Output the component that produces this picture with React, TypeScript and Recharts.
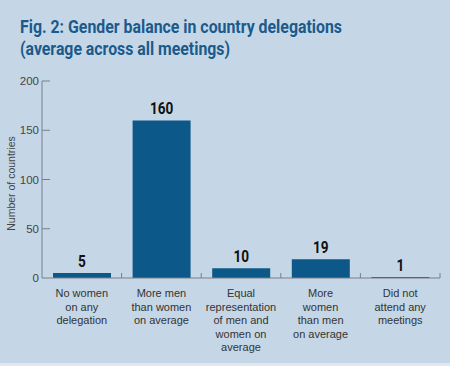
import React from 'react';
import { BarChart, Bar, XAxis, YAxis, LabelList } from 'recharts';

const categories = [
  'No women\non any\ndelegation',
  'More men\nthan women\non average',
  'Equal\nrepresentation\nof men and\nwomen on\naverage',
  'More\nwomen\nthan men\non average',
  'Did not\nattend any\nmeetings',
];
const countries = [5, 160, 10, 19, 1];
const yTicks = [0, 50, 100, 150, 200];

const chartData = categories.map((name, i) => ({ name, value: countries[i] }));

const BG = '#c5d7e6';
const BAR = '#0b5889';
const AXIS = '#7a7f85';
const SANS = "'Liberation Sans', Arial, sans-serif";

// category label split over lines, plus a small tick at the right edge of each band
const CategoryTick = (props: any) => {
  const { x, y, payload } = props;
  const half = payload && payload.offset ? payload.offset : 40;
  const lines = String(payload.value).split('\n');
  return (
    <g>
      <line x1={x + half} x2={x + half} y1={y - 5} y2={y} stroke={AXIS} strokeWidth={1} />
      <text x={x} y={y + 19} textAnchor="middle" fill="#333" fontSize={11} fontFamily={SANS}>
        {lines.map((line, i) => (
          <tspan key={i} x={x} dy={i === 0 ? 0 : 13.6}>
            {line}
          </tspan>
        ))}
      </text>
    </g>
  );
};

// y tick: number on the left, short tick pointing into the plot
const ValueTick = (props: any) => {
  const { x, y, payload } = props;
  return (
    <g>
      {payload.value !== 0 && (
        <line x1={x + 3} x2={x + 11} y1={y} y2={y} stroke={AXIS} strokeWidth={1} />
      )}
      <text x={x} y={y} dy={4} textAnchor="end" fill="#444" fontSize={11.5} fontFamily={SANS}>
        {payload.value}
      </text>
    </g>
  );
};

// bold condensed value label above each bar
const ValueLabel = (props: any) => {
  const { x, y, width, value } = props;
  const cx = x + width / 2;
  return (
    <text
      x={cx}
      y={y - 6}
      textAnchor="middle"
      fill="#111"
      fontSize={16}
      fontWeight="bold"
      fontFamily="Roboto, sans-serif"
      transform={`translate(${cx} 0) scale(0.85 1) translate(${-cx} 0)`}
    >
      {value}
    </text>
  );
};

// rotated axis title at the far left
const YTitle = (props: any) => {
  const { viewBox } = props;
  const cy = viewBox.y + viewBox.height / 2 + 4;
  return (
    <text
      x={11}
      y={cy}
      transform={`rotate(-90 11 ${cy})`}
      textAnchor="middle"
      dominantBaseline="central"
      fill="#444"
      fontSize={10.5}
      fontFamily={SANS}
    >
      Number of countries
    </text>
  );
};

const App: React.FC = () => {
  return (
    <div style={{ position: 'absolute', left: 0, top: 0, width: 450, height: 366, background: BG, overflow: 'hidden' }}>
      <svg width={450} height={70} style={{ position: 'absolute', left: 0, top: 0 }}>
        <text x={20} y={33} fill="#1b5a8c" fontSize={19} fontWeight="bold" fontFamily="Roboto, sans-serif"
          textLength={322} lengthAdjust="spacingAndGlyphs">
          Fig. 2: Gender balance in country delegations
        </text>
        <text x={20} y={55} fill="#1b5a8c" fontSize={19} fontWeight="bold" fontFamily="Roboto, sans-serif"
          textLength={210} lengthAdjust="spacingAndGlyphs">
          (average across all meetings)
        </text>
      </svg>
      <div style={{ position: 'absolute', left: 0, bottom: 0, width: 450, height: 3, background: '#dfe7ef' }} />
      <div style={{ position: 'absolute', left: 0, top: 0 }}>
        <BarChart width={450} height={366} data={chartData} margin={{ top: 81, right: 10, bottom: 58, left: 0 }}>
          <YAxis
            domain={[0, 200]}
            ticks={yTicks}
            width={42}
            axisLine={{ stroke: AXIS }}
            tickLine={false}
            tickSize={0}
            tickMargin={3}
            tick={<ValueTick />}
            label={<YTitle />}
          />
          <XAxis
            dataKey="name"
            axisLine={{ stroke: AXIS }}
            tickLine={false}
            tickSize={0}
            tickMargin={0}
            interval={0}
            height={30}
            tick={<CategoryTick />}
          />
          <Bar dataKey="value" fill={BAR} barSize={58} isAnimationActive={false}>
            <LabelList dataKey="value" content={<ValueLabel />} />
          </Bar>
        </BarChart>
      </div>
    </div>
  );
};

export default App;
